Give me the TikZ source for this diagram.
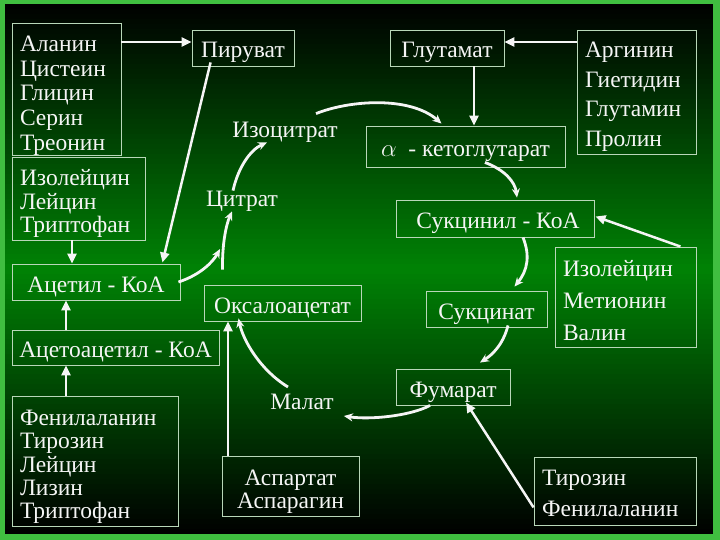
\documentclass[tikz,border=0pt]{standalone}
\usepackage{fontspec}
\setmainfont{Liberation Serif}
\usetikzlibrary{arrows.meta,calc}
\definecolor{frame}{RGB}{64,190,64}
\definecolor{peak}{RGB}{0,130,5}
\definecolor{edge}{RGB}{185,215,185}
\definecolor{ink}{RGB}{245,245,245}
\newcommand{\dn}[1]{\rule{0pt}{#1}}
\tikzset{
  box/.style={draw=edge, line width=0.9pt, text=ink, inner sep=0pt, anchor=center},
  onebox/.style={box, text height=20pt, text depth=0pt},
  listbox/.style={box, align=left, inner xsep=8pt, text width=#1-16pt, minimum width=#1},
  lbl/.style={text=ink, inner sep=0pt},
  arr/.style={draw=ink, line width=2.5pt, -{Triangle[length=10pt,width=9pt]}},
  cyc/.style={draw=ink, line width=2.8pt, -{Stealth[length=9pt,width=8pt,inset=3pt]}}
}
\begin{document}
\begin{tikzpicture}[x=1pt,y=-1pt, font=\fontsize{23.5}{24.5}\selectfont]
\useasboundingbox (0,0) rectangle (720,540);
\fill[frame] (0,0) rectangle (720,540);
\foreach \k in {0,...,105}{
  \pgfmathsetmacro{\yy}{4+5*\k}
  \pgfmathsetmacro{\ff}{100*(1-abs(\yy+2.5-269)/265)}
  \fill[peak!\ff!black] (5,\yy) rectangle (713,\yy+5.3);
}

% left column
\node[listbox=109pt, minimum height=131pt, font=\fontsize{23.5}{24.7}\selectfont] (aa1) at (66.5,89.5) {\dn{27.5pt}Аланин\\Цистеин\\Глицин\\Серин\\Треонин};
\node[onebox, minimum width=102pt, minimum height=36pt] (pyr) at (243,48) {Пируват};
\node[listbox=133pt, minimum height=83pt, font=\fontsize{23.5}{23.5}\selectfont] (aa2) at (78.5,198.5) {\dn{27pt}Изолейцин\\Лейцин\\Триптофан};
\node[onebox, minimum width=168pt, minimum height=36pt] (acoa) at (96,282) {Ацетил - КоА};
\node[onebox, minimum width=207pt, minimum height=35pt] (acac) at (115.5,347.5) {Ацетоацетил - КоА};
\node[listbox=166pt, minimum height=130pt, font=\fontsize{23.5}{23.3}\selectfont] (aa3) at (95,461) {\dn{27.5pt}Фенилаланин\\Тирозин\\Лейцин\\Лизин\\Триптофан};
\node[onebox, minimum width=157pt, minimum height=36pt] (oxa) at (282.5,303) {Оксалоацетат};
\node[box, align=center, minimum width=137pt, minimum height=60pt, font=\fontsize{23.5}{23}\selectfont] (asp) at (290.5,486) {\dn{27.5pt}Аспартат\\Аспарагин};

% right column
\node[onebox, minimum width=114pt, minimum height=36pt] (glu) at (447,48) {Глутамат};
\node[listbox=119pt, minimum height=124pt, font=\fontsize{23.5}{29.5}\selectfont] (aa4) at (636.5,92) {\dn{25.5pt}Аргинин\\Гиетидин\\Глутамин\\Пролин};
\node[onebox, minimum width=199pt, minimum height=41pt] (akg) at (465.5,146.5) {{\fontsize{28}{28}\selectfont$\alpha$}\ \ - кетоглутарат};
\node[onebox, minimum width=198pt, minimum height=37pt] (scoa) at (495,218.5) {\ Сукцинил - КоА};
\node[listbox=141pt, minimum height=100pt, font=\fontsize{23.5}{32}\selectfont] (aa5) at (625.5,297) {\dn{23pt}Изолейцин\\Метионин\\Валин};
\node[onebox, minimum width=121pt, minimum height=36pt] (succ) at (486.5,309) {Сукцинат};
\node[onebox, minimum width=114pt, minimum height=36pt] (fum) at (453,387) {Фумарат};
\node[listbox=162pt, minimum height=68pt, font=\fontsize{23.5}{31}\selectfont] (aa6) at (615,491) {\dn{19.5pt}Тирозин\\Фенилаланин};

% free labels
\node[lbl] (izo) at (285,132) {Изоцитрат};
\node[lbl] (cit) at (242,201) {Цитрат};
\node[lbl] (mal) at (302,402) {Малат};

% straight arrows
\draw[arr] ([yshift=6pt]pyr.west -| aa1.east) -- ([yshift=6pt]pyr.west);
\draw[arr] ($(pyr.south west)+(19,-4)$) -- ($(acoa.north east)+(-18,-1)$);
\draw[arr] ([xshift=-6.5pt]aa2.south) -- ([xshift=-6.5pt]aa2.south |- acoa.north);
\draw[arr] ([xshift=-49.5pt]acac.north) -- ([xshift=-49.5pt]acac.north |- acoa.south);
\draw[arr] ([xshift=-29pt]aa3.north) -- ([xshift=-29pt]aa3.north |- acac.south);
\draw[arr] ([xshift=-62.5pt]asp.north) -- ([xshift=-62.5pt]asp.north |- oxa.south);
\draw[arr] ([xshift=27pt]glu.south) -- ([xshift=27pt]glu.south |- akg.north);
\draw[arr] ([yshift=6pt]glu.east -| aa4.west) -- ([yshift=6pt]glu.east);
\draw[arr] ($(aa5.north east)+(-16,0)$) -- ($(scoa.east)+(1,-2)$);
\draw[arr] ($(aa6.south west)+(0,-18)$) -- ($(fum.south)+(13,-3)$);

% cycle arrows
\draw[cyc] ($(acoa.east)+(-2,0)$) .. controls (200,275) and (213,262) .. (220,249);
\draw[cyc] ($(oxa.north west)+(19,-15)$) .. controls (222,245) and (226,225) .. ([xshift=-10pt]cit.south);
\draw[cyc] ([xshift=-9pt]cit.north) .. controls (238,168) and (250,150) .. ([xshift=-18pt]izo.south);
\draw[cyc] ($(izo.north)+(31,-8)$) .. controls (350,100) and (410,96) .. ($(akg.north)+(-24,-2)$);
\draw[cyc] ($(akg.south)+(19.5,-5)$) .. controls (505,170) and (515,182) .. ($(scoa.north)+(22,-2)$);
\draw[cyc] ($(scoa.south)+(28,0)$) .. controls (530,255) and (528,270) .. ($(succ.north)+(28,-4)$);
\draw[cyc] ($(succ.south)+(21.5,-2)$) .. controls (503,345) and (492,355) .. ($(fum.north)+(27,-6)$);
\draw[cyc] ($(fum.south)+(-23,0)$) .. controls (410,416) and (370,420) .. ($(mal.east)+(10,14)$);
\draw[cyc] ($(mal.north)+(-14,-7)$) .. controls (260,370) and (243,340) .. ($(oxa.south west)+(35,-3)$);
\end{tikzpicture}
\end{document}
